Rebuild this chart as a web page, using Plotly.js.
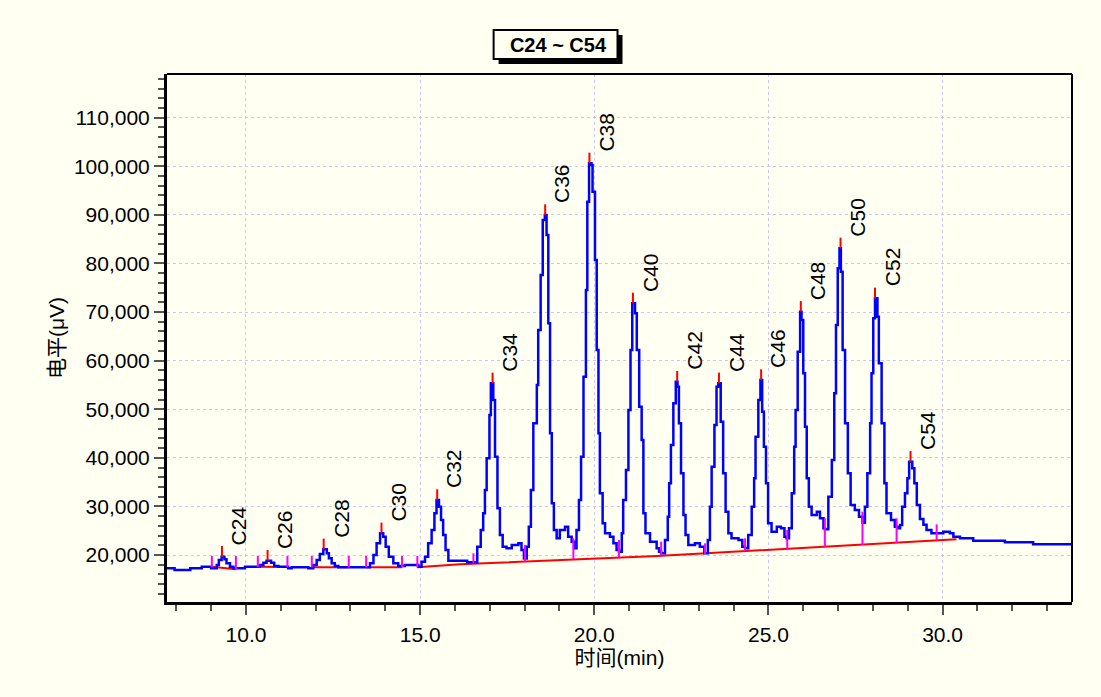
<!DOCTYPE html>
<html>
<head>
<meta charset="utf-8">
<script src="https://cdn.plot.ly/plotly-3.0.1.min.js"></script>
<style>html,body{margin:0;padding:0;background:#fffff2;}#chart{width:1101px;height:697px;}</style>
</head>
<body>
<div id="chart"></div>
<script>
// Chromatogram trace (time in min, signal in µV)
const times = [7.70,7.95,8.40,8.73,9.00,9.16,9.22,9.30,9.38,9.44,9.54,9.64,9.97,10.40,10.50,10.59,10.72,10.81,10.93,11.21,11.31,11.79,11.93,12.03,12.12,12.22,12.32,12.38,12.46,12.55,12.65,13.56,13.66,13.75,13.85,13.94,14.01,14.10,14.23,14.37,14.56,14.95,15.04,15.14,15.23,15.33,15.41,15.47,15.54,15.60,15.66,15.73,15.81,16.35,16.64,16.74,16.81,16.86,16.91,16.99,17.03,17.10,17.15,17.22,17.29,17.37,17.48,17.63,17.82,17.91,17.98,18.06,18.12,18.18,18.25,18.35,18.39,18.46,18.52,18.58,18.63,18.68,18.73,18.78,18.84,18.92,19.01,19.16,19.25,19.35,19.42,19.49,19.56,19.62,19.69,19.76,19.80,19.85,19.92,19.95,20.02,20.07,20.12,20.16,20.24,20.31,20.45,20.55,20.64,20.71,20.79,20.83,20.91,20.98,21.04,21.09,21.17,21.22,21.29,21.36,21.41,21.47,21.60,21.79,21.86,21.92,22.03,22.11,22.15,22.20,22.27,22.34,22.39,22.43,22.49,22.56,22.62,22.70,22.89,23.03,23.16,23.26,23.32,23.37,23.45,23.51,23.56,23.63,23.70,23.77,23.85,23.94,24.14,24.25,24.33,24.42,24.52,24.59,24.63,24.71,24.77,24.82,24.87,24.93,24.99,25.09,25.24,25.36,25.46,25.52,25.59,25.67,25.74,25.78,25.84,25.91,25.95,26.00,26.05,26.10,26.16,26.24,26.39,26.48,26.58,26.62,26.72,26.82,26.89,26.94,26.99,27.04,27.08,27.13,27.20,27.28,27.36,27.48,27.60,27.70,27.77,27.84,27.92,27.96,28.01,28.06,28.13,28.17,28.25,28.33,28.39,28.52,28.63,28.71,28.78,28.84,28.92,28.99,29.04,29.13,29.19,29.26,29.35,29.45,29.54,29.68,30.02,30.21,30.31,30.50,30.88,31.79,32.60,33.72];
const signal = [17256,16913,17256,17600,17256,17940,18970,19660,19110,18285,17600,17256,17600,17940,18420,18830,18420,17735,17600,17256,17460,17256,17940,18970,20200,21165,20340,19315,18285,17735,17460,18285,20000,22400,24460,23770,21715,19660,18285,17735,17940,17600,18630,19660,22400,25145,28575,31320,29950,27200,24115,21030,18800,18500,21715,25145,28575,33370,39890,48810,55330,51900,40240,29600,24115,21715,21370,22060,22400,21030,19300,21715,25830,33370,47100,54985,66300,77625,88940,89970,85855,67680,45040,30630,25145,23430,25145,25830,23770,22745,21370,25145,31320,40240,56700,74540,92715,100600,100260,94770,80710,62190,45040,32690,26520,24460,23770,22400,21030,20685,24460,31320,37490,49840,62190,71790,69735,62190,50525,43665,28575,24460,22745,21370,20685,20340,23090,27890,34750,42640,51210,55670,54645,47100,36810,28230,24115,22060,22400,21715,20340,23090,29950,38180,46755,54645,55330,47440,36810,28920,24460,23430,23090,21715,21370,24115,29950,35780,44355,51900,56015,49500,42295,34750,26520,24800,25830,25490,23770,23430,25490,32690,42295,49840,61840,70080,68360,57390,46410,35780,29950,28230,28920,27550,25490,25280,32005,39550,53270,67335,78995,83110,78310,62190,47100,36810,30290,29260,27890,26655,29950,36810,47100,57390,68705,72820,69050,59445,47100,34750,28575,27205,25830,25490,26170,29950,32690,35780,39205,37835,34750,30290,27400,26200,25145,24460,24800,24460,23775,23430,22950,22605,22195,22195];

// Baseline segments (null breaks segments)
const baseT = [9.02,9.71,null,10.34,11.19,null,11.89,12.95,null,13.45,14.48,null,14.92,16.14,21.80,29.50,30.40];
const baseV = [17600,17050,null,17600,17550,null,17460,17460,null,17460,17460,null,17460,18080,19800,22880,23220];

// Peaks
const peakNames = ['C24','C26','C28','C30','C32','C34','C36','C38','C40','C42','C44','C46','C48','C50','C52','C54'];
const peakTimes = [9.31,10.62,12.23,13.89,15.49,17.08,18.59,19.86,21.11,22.38,23.58,24.79,25.93,27.07,28.06,29.08];
const peakHeights = [19660,18830,21165,24460,31320,55330,89970,100600,71790,55670,55330,56015,70080,83110,72820,39205];

// Peak boundary markers
const markT = [9.02,9.71,10.34,11.19,11.89,12.95,13.45,14.48,14.92,16.53,18.01,19.40,20.71,21.92,23.18,24.33,25.54,26.62,27.70,28.68,29.83];
const markLow = [17460,17050,17460,17460,17460,17460,17460,17460,17460,18290,18640,19110,19520,20000,20200,20900,21165,21715,22060,22400,23085];
const markHigh = [19795,19795,19795,19795,19795,19795,19795,19795,19795,20340,22060,23430,23085,22745,22400,23430,25145,27550,28920,27550,26310];

const tickLen = 2200;
const FONT = 'Liberation Sans, Arial, Noto Sans CJK SC, sans-serif';

// build segment traces
const mx = [], my = [];
markT.forEach((t,i)=>{ mx.push(t,t,null); my.push(markLow[i],markHigh[i],null); });
const px = [], py = [];
peakTimes.forEach((t,i)=>{ px.push(t,t,null); py.push(peakHeights[i],peakHeights[i]+tickLen,null); });

const data = [
  {x: baseT, y: baseV, type:'scatter', mode:'lines', line:{color:'#ff0000', width:2}, connectgaps:false, hoverinfo:'skip', showlegend:false},
  {x: times, y: signal, type:'scatter', mode:'lines', line:{color:'#0000ff', width:2.5, shape:'hv'}, showlegend:false},
  {x: mx, y: my, type:'scatter', mode:'lines', line:{color:'#ff00ff', width:2}, hoverinfo:'skip', showlegend:false},
  {x: px, y: py, type:'scatter', mode:'lines', line:{color:'#ff0000', width:2}, hoverinfo:'skip', showlegend:false}
];

const annotations = peakNames.map((n,i)=>({
  x: peakTimes[i], y: peakHeights[i]+tickLen, xref:'x', yref:'y',
  text: n, textangle: -90, showarrow:false, xanchor:'center', yanchor:'bottom',
  xshift: 17, yshift: -1, font:{family:FONT, size:21, color:'#000'}
}));

const layout = {
  width:1101, height:697,
  paper_bgcolor:'#fffff2', plot_bgcolor:'#fffff2',
  margin:{l:167, r:29, t:74, b:95},
  font:{family:FONT, size:21, color:'#000'},
  title:{text:'C24 ~ C54', x:0.5068, xref:'container', y:1-45/697, yref:'container', xanchor:'center', yanchor:'middle',
         font:{family:FONT, size:20, color:'#000', weight:'bold'}},
  xaxis:{
    range:[7.732, 33.716], tick0:0, dtick:5, tickformat:'.1f',
    showline:true, linewidth:3, linecolor:'#000', mirror:false,
    ticks:'outside', ticklen:10, tickwidth:2, tickcolor:'#555',
    showgrid:true, gridcolor:'#c8c8f2', gridwidth:1, griddash:'3px,3px',
    zeroline:false, ticklabelstandoff:2,
    minor:{dtick:1, ticks:'outside', ticklen:6, tickwidth:2, tickcolor:'#555', showgrid:false},
    title:{text:'时间(min)', standoff:6, font:{family:FONT, size:21}},
    tickfont:{family:FONT, size:21}
  },
  yaxis:{
    range:[10327, 118989], tick0:0, dtick:10000, tickformat:',d',
    showline:true, linewidth:3, linecolor:'#000', mirror:false,
    ticks:'outside', ticklen:10, tickwidth:2, tickcolor:'#555',
    showgrid:true, gridcolor:'#c8c8f2', gridwidth:1, griddash:'3px,3px',
    zeroline:false,
    minor:{dtick:2000, ticks:'outside', ticklen:6, tickwidth:2, tickcolor:'#555', showgrid:false},
    title:{text:'电平(μV)', standoff:4, font:{family:FONT, size:21}},
    tickfont:{family:FONT, size:21}
  },
  shapes:[
    {type:'line', xref:'paper', yref:'paper', x0:0, x1:1, y0:1, y1:1, line:{color:'#000', width:2}},
    {type:'line', xref:'paper', yref:'paper', x0:1, x1:1, y0:0, y1:1, line:{color:'#000', width:2}},
    {type:'rect', xref:'paper', yref:'paper', x0:0.3664, x1:0.5033, y0:1.0189, y1:1.0739, fillcolor:'#000', line:{width:0}},
    {type:'rect', xref:'paper', yref:'paper', x0:0.3609, x1:0.4978, y0:1.0284, y1:1.0833, fillcolor:'#fffff2', line:{color:'#000', width:2}}
  ],
  annotations: annotations
};

Plotly.newPlot('chart', data, layout, {displayModeBar:false, staticPlot:true});
</script>
</body>
</html>
